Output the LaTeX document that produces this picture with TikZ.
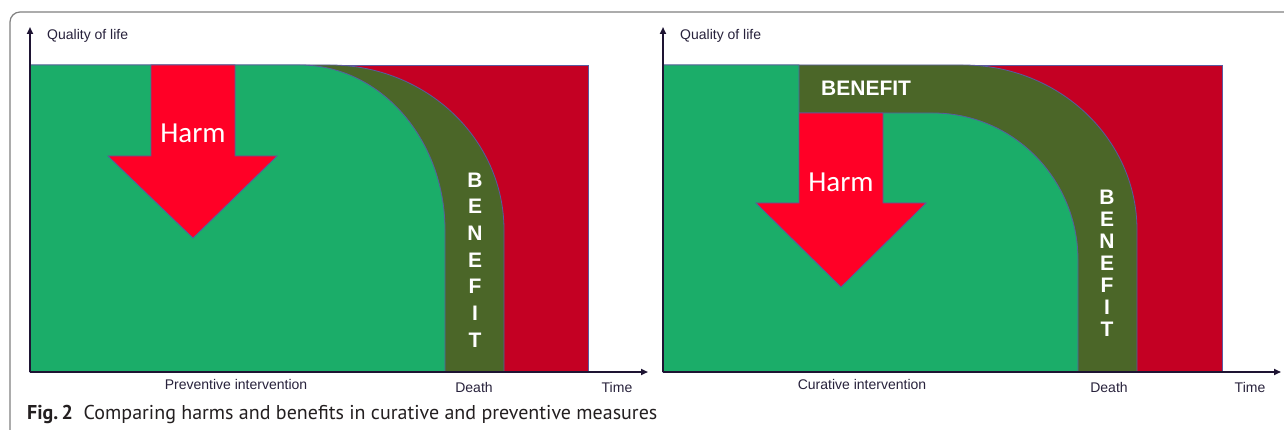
\documentclass[tikz,border=0pt]{standalone}
\usepackage{fontspec}
\setmainfont{Liberation Sans}
\newfontfamily\harmfont{Carlito}
\newfontfamily\capfont{PT Sans}
\usetikzlibrary{arrows.meta}
\definecolor{lifegreen}{RGB}{27,173,105}
\definecolor{benegreen}{RGB}{75,102,40}
\definecolor{deathred}{RGB}{196,0,35}
\definecolor{harmred}{RGB}{255,0,38}
\definecolor{edgeblue}{RGB}{90,90,160}
\definecolor{axiscol}{RGB}{30,20,51}
\definecolor{framecol}{RGB}{128,128,128}
\definecolor{labelcol}{RGB}{40,34,60}
\definecolor{captioncol}{RGB}{35,31,32}
\begin{document}
\begin{tikzpicture}[x=1pt,y=-1pt,
  region/.style={draw=edgeblue,line width=0.8pt},
  axisline/.style={draw=axiscol,line width=2pt,-{Triangle[length=7pt,width=6pt]}},
  axislabel/.style={anchor=base,text=labelcol,inner sep=0pt,font=\fontsize{14}{16}\selectfont},
  harmlabel/.style={text=white,inner sep=0pt,font=\harmfont\fontsize{29}{32}\selectfont},
  benelabel/.style={text=white,inner sep=0pt,font=\bfseries\fontsize{21}{24}\selectfont},
  benevert/.style={benelabel,align=center},
  caption/.style={anchor=base west,inner sep=0pt,text=captioncol,font=\capfont\fontsize{20}{22}\selectfont}]
\useasboundingbox (0,0) rectangle (1284,430);
\fill[white] (0,0) rectangle (1284,430);
% frame
\draw[framecol,line width=1.2pt,rounded corners=10pt] (10,432) -- (10,12) -- (1286,12);

% ---------- left panel ----------
\path[region,fill=deathred] (30,65) rectangle (588,372);
\path[region,fill=benegreen] (30,65) -- (330,65) arc[start angle=-90,end angle=0,x radius=174,y radius=165] -- (504,372) -- (30,372) -- cycle;
\path[region,fill=lifegreen] (30,65) -- (300,65) arc[start angle=-90,end angle=0,x radius=145,y radius=165] -- (445,372) -- (30,372) -- cycle;
\path[region,fill=harmred] (151,65) -- (235,65) -- (235,156) -- (277,156) -- (193,238) -- (108,156) -- (151,156) -- cycle;
\node[harmlabel] (harmL) at (193,133) {Harm};
\node[benevert,font=\bfseries\fontsize{21}{26.7}\selectfont] (beneL) at (475,260) {B\\E\\N\\E\\F\\I\\T};
\coordinate (oL) at (30,372);
\coordinate (yL) at (30,27);
\coordinate (xL) at (648,372);
\draw[axisline] (oL) -- (yL);
\draw[axisline] (oL) -- (xL);
\node[axislabel,anchor=base west] (qolL) at (47,40) {Quality of life};
\node[axislabel] (prevL) at (236,389) {Preventive intervention};
\node[axislabel] (deathL) at (474,392) {Death};
\node[axislabel] (timeL) at (617,392) {Time};

% ---------- right panel ----------
\path[region,fill=deathred] (663,65) rectangle (1222,372);
\path[region,fill=benegreen] (663,65) -- (963,65) arc[start angle=-90,end angle=0,x radius=174,y radius=165] -- (1137,372) -- (663,372) -- cycle;
\path[region,fill=lifegreen] (663,65) -- (799,65) -- (799,113) -- (933,113) arc[start angle=-90,end angle=0,x radius=145,y radius=147] -- (1078,372) -- (663,372) -- cycle;
\path[region,fill=harmred] (799,113) -- (883,113) -- (883,203) -- (926,203) -- (841,287) -- (756,203) -- (799,203) -- cycle;
\node[harmlabel] (harmR) at (841,182) {Harm};
\node[benelabel,anchor=base west] (beneTop) at (821,96) {BENEFIT};
\node[benevert,font=\bfseries\fontsize{21}{22}\selectfont] (beneR) at (1107,263) {B\\E\\N\\E\\F\\I\\T};
\coordinate (oR) at (663,372);
\coordinate (yR) at (663,27);
\coordinate (xR) at (1281,372);
\draw[axisline] (oR) -- (yR);
\draw[axisline] (oR) -- (xR);
\node[axislabel,anchor=base west] (qolR) at (680,40) {Quality of life};
\node[axislabel] (curR) at (862,389) {Curative intervention};
\node[axislabel] (deathR) at (1109,392) {Death};
\node[axislabel] (timeR) at (1250,392) {Time};

% caption
\node[caption] (cap) at (27,419) {\textbf{Fig.\,2}\ \ Comparing harms and benefits in curative and preventive measures};
\end{tikzpicture}
\end{document}
